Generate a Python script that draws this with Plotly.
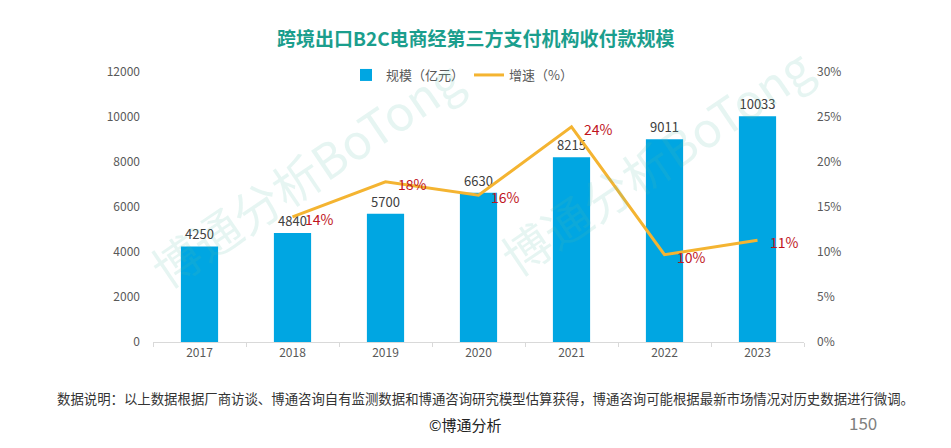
import plotly.graph_objects as go
from plotly.subplots import make_subplots

years = ["2017", "2018", "2019", "2020", "2021", "2022", "2023"]
scale = [4250, 4840, 5700, 6630, 8215, 9011, 10033]
growth_years = ["2018", "2019", "2020", "2021", "2022", "2023"]
growth = [13.9, 17.8, 16.3, 23.9, 9.7, 11.3]
growth_labels = ["14%", "18%", "16%", "24%", "10%", "11%"]
left_ticks = [0, 2000, 4000, 6000, 8000, 10000, 12000]
right_ticks = [0, 5, 10, 15, 20, 25, 30]
right_tick_text = ["0%", "5%", "10%", "15%", "20%", "25%", "30%"]

title = "跨境出口B2C电商经第三方支付机构收付款规模"
note = "数据说明：以上数据根据厂商访谈、博通咨询自有监测数据和博通咨询研究模型估算获得，博通咨询可能根据最新市场情况对历史数据进行微调。"

FONT = "Noto Sans CJK SC"

# page body margin offset
OFF = 8
W, H = 951 - 2 * OFF, 448 - 2 * OFF
# plot area in reference (window) pixels
PL, PR, PT, PB = 153, 804, 72, 342
ML, MR, MT, MB = PL - OFF, W - (PR - OFF), PT - OFF, H - (PB - OFF)
pw, ph = W - ML - MR, H - MT - MB


def px_x(x):
    return (x - OFF - ML) / pw


def px_y(y):
    return (H - MB - (y - OFF)) / ph


fig = make_subplots(specs=[[{"secondary_y": True}]])

fig.add_trace(go.Bar(
    x=years, y=scale, name="规模（亿元）",
    marker=dict(color="#00a6e2", line=dict(width=0)),
    width=0.4,
    text=[str(v) for v in scale], textposition="outside",
    textfont=dict(size=13, color="#404040", family=FONT),
    cliponaxis=False,
), secondary_y=False)

fig.add_trace(go.Scatter(
    x=growth_years, y=growth, name="增速（%）", mode="lines",
    line=dict(color="#f4b431", width=3),
), secondary_y=True)

annotations = []
for xv, yv, t in zip(growth_years, growth, growth_labels):
    annotations.append(dict(
        x=years.index(xv), y=yv, xref="x", yref="y2", text=t, showarrow=False,
        xanchor="left", yanchor="middle", xshift=10, yshift=-2,
        font=dict(size=14, color="#c0141c", family=FONT),
    ))

# watermarks
for cx, cy in [(305, 172), (655, 160)]:
    annotations.append(dict(
        x=px_x(cx), y=px_y(cy), xref="paper", yref="paper", text="博通分析BoTong",
        showarrow=False, textangle=-34, xanchor="center", yanchor="middle",
        font=dict(size=48, color="rgba(90,185,165,0.15)", family=FONT),
    ))

# title
annotations.append(dict(
    x=px_x(476), y=px_y(38), xref="paper", yref="paper", text="<b>" + title + "</b>",
    showarrow=False, xanchor="center", yanchor="middle",
    font=dict(size=19, color="#1b9e8d", family=FONT),
))
annotations.append(dict(
    x=px_x(55), y=px_y(398), xref="paper", yref="paper", text=note, showarrow=False,
    xanchor="left", yanchor="middle",
    font=dict(size=13.4, color="#333333", family=FONT),
))
annotations.append(dict(
    x=px_x(465), y=px_y(424), xref="paper", yref="paper", text="©博通分析", showarrow=False,
    xanchor="center", yanchor="middle",
    font=dict(size=15, color="#222222", family=FONT),
))
annotations.append(dict(
    x=px_x(863), y=px_y(422), xref="paper", yref="paper", text="150", showarrow=False,
    xanchor="center", yanchor="middle",
    font=dict(size=17, color="#7f7f7f", family=FONT),
))

fig.update_layout(
    width=W, height=H,
    margin=dict(l=ML, r=MR, t=MT, b=MB, autoexpand=False),
    paper_bgcolor="white", plot_bgcolor="white",
    font=dict(family=FONT, color="#595959", size=12),
    legend=dict(orientation="h", x=px_x(346), xanchor="left",
                y=px_y(75), yanchor="middle", bgcolor="rgba(0,0,0,0)",
                font=dict(size=13, color="#595959", family=FONT),
                itemwidth=30, traceorder="normal"),
    annotations=annotations,
    showlegend=True,
)

fig.update_xaxes(
    type="category", range=[-0.5, 6.5], autorange=False, domain=[0, 1],
    showgrid=False, showline=True, linecolor="#d9d9d9", linewidth=1,
    ticks="outside", tickson="boundaries", ticklen=4, tickcolor="#d9d9d9",
    tickfont=dict(size=12, color="#595959"),
)
fig.update_yaxes(
    range=[0, 12000], tickvals=left_ticks, ticktext=[str(v) for v in left_ticks],
    showgrid=False, zeroline=False,
    showline=False, tickfont=dict(size=12, color="#595959"), ticklabelstandoff=12,
    secondary_y=False,
)
fig.update_yaxes(
    range=[0, 30], tickvals=right_ticks, ticktext=right_tick_text, showgrid=False,
    zeroline=False, showline=False, tickfont=dict(size=12, color="#595959"),
    ticklabelstandoff=12, secondary_y=True,
)

fig.write_html("out.html")
